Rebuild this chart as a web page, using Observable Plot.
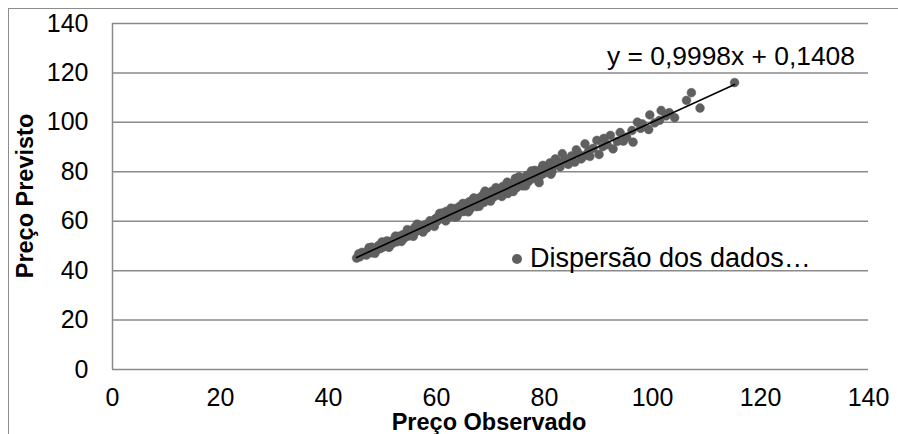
<!DOCTYPE html>
<html><head><meta charset="utf-8">
<script src="https://cdn.jsdelivr.net/npm/d3@7"></script>
<script src="https://cdn.jsdelivr.net/npm/@observablehq/plot@0.6"></script>
<style>
body{margin:0;background:#fff;font-family:"Liberation Sans",Arial,sans-serif;}
#wrap{position:relative;width:898px;height:434px;overflow:hidden;}
#frame{position:absolute;left:8px;top:8px;width:900px;height:440px;border-top:1.5px solid #8c8c8c;border-left:1.5px solid #8c8c8c;box-sizing:border-box;}
#chart{position:absolute;left:0;top:0;}
.ov{position:absolute;white-space:nowrap;color:#000;line-height:1;}
</style></head>
<body>
<div id="wrap"><div id="frame"></div><div id="chart"></div>
<div id="eq" class="ov" style="left:607px;top:43px;font-size:26.4px;"></div>
<div id="leg" class="ov" style="left:512px;top:245px;font-size:27px;"><span style="display:inline-block;width:10px;height:10px;border-radius:50%;background:#5f5f5f;margin-right:8px;vertical-align:3px;"></span><span id="legtxt"></span></div>
<div class="ov" style="left:0;width:978px;text-align:center;top:411px;font-size:23.5px;font-weight:bold;">Preço Observado</div>
<div class="ov" style="left:26px;top:196px;font-size:23.5px;font-weight:bold;transform:translate(-50%,-50%) rotate(-90deg);">Preço Previsto</div>
</div>
<script>
const observed = [45.2,45.8,46.5,47.0,47.3,47.9,48.4,48.8,49.3,49.6,50.1,50.5,51.0,51.4,51.8,52.2,52.6,53.0,53.3,53.7,54.0,54.4,54.8,55.1,55.5,55.9,56.2,56.6,57.0,57.3,57.7,58.0,58.5,59.0,59.4,59.8,60.1,60.4,60.8,61.1,61.5,61.8,62.2,62.5,62.9,63.2,63.6,63.9,64.3,64.6,65.0,65.3,65.7,66.0,66.4,66.7,67.1,67.4,67.8,68.1,68.5,68.8,69.2,69.5,69.9,70.2,70.6,70.9,71.3,71.6,72.0,72.3,72.7,73.0,73.4,73.7,74.1,74.5,74.8,75.2,75.6,75.9,76.3,76.7,77.0,77.4,77.8,78.2,78.6,79.0,79.4,79.8,80.2,80.6,81.0,81.4,81.9,82.4,82.9,83.3,83.8,84.4,85.0,85.6,86.2,86.8,87.5,87.5,88.2,89.0,89.7,90.1,90.8,91.6,92.2,92.7,93.5,94.6,95.2,96.4,97.2,97.8,98.1,99.3,99.5,100.4,101.3,101.6,102.5,103.1,104.1,106.3,107.2,108.8,115.2,46.2,48.0,50.8,52.9,55.3,56.8,58.2,61.3,63.4,64.8,66.2,67.6,69.0,70.5,71.8,73.2,74.6,76.0,77.6,79.1,80.9,82.0,84.0,85.9,88.4,91.0,94.0,96.2,45.6,47.5,48.6,49.9,51.2,52.4,53.5,54.6,55.7,56.4,57.5,58.8,59.6,60.6,61.7,62.7,63.8,64.9,65.9,66.9,67.9,68.9,70.0,71.0,72.1,73.1,74.2,75.3,76.5,77.7,78.9,79.7,81.2];
const predicted = [45.1,45.6,46.9,46.3,48.0,47.2,49.0,48.1,50.2,48.9,49.5,51.0,50.3,51.8,50.9,52.8,51.6,53.9,52.4,54.5,53.1,55.2,54.0,56.0,54.6,57.3,55.8,57.6,56.4,58.1,57.0,58.7,58.9,59.5,58.6,61.0,60.0,62.1,61.2,63.3,62.0,64.0,62.8,61.9,64.6,63.5,65.2,62.8,66.0,64.4,63.9,66.7,65.1,67.8,66.2,68.6,67.0,65.9,69.3,68.0,70.4,67.6,69.1,71.3,70.2,72.1,69.8,71.0,73.0,70.6,72.4,74.1,71.9,73.6,75.2,72.8,74.9,76.0,73.5,75.6,77.4,74.3,76.8,78.5,76.0,79.3,77.2,80.6,78.1,75.6,81.2,79.2,82.0,81.0,83.6,80.2,82.7,84.1,82.0,87.3,85.1,83.0,86.4,83.9,87.7,85.2,91.3,86.6,88.6,89.5,92.7,87.0,90.2,91.0,94.7,89.3,92.3,92.4,94.0,92.0,100.1,97.6,99.4,97.1,103.0,99.8,100.8,104.8,102.6,103.9,101.9,108.9,112.0,105.8,116.1,47.4,49.5,52.0,52.9,55.6,58.4,57.2,60.9,61.7,65.9,64.8,68.8,72.2,70.9,72.6,71.2,77.3,75.9,80.4,78.2,79.6,85.2,84.5,88.9,86.2,93.5,95.9,96.7,46.8,49.3,47.0,51.6,49.4,54.0,51.8,56.6,53.9,58.8,55.6,60.2,57.9,63.2,60.1,65.3,61.9,67.2,63.8,69.4,66.0,71.5,68.1,73.6,70.0,75.8,72.0,78.0,74.3,79.9,76.5,82.6,79.0];
const xTicks = [0,20,40,60,80,100,120,140];
const yTicks = [0,20,40,60,80,100,120,140];
const trendCoef = [0.9998, 0.1408]; // slope, intercept
const seriesName = "Dispersão dos dados…";

const data = observed.map((x,i)=>({x, y: predicted[i]}));
const xr = d3.extent(observed);
const trend = xr.map(x=>({x, y: trendCoef[0]*x + trendCoef[1]}));
const fmt = v => String(v).replace(".", ",");
document.getElementById("eq").textContent = `y = ${fmt(trendCoef[0])}x + ${fmt(trendCoef[1])}`;
document.getElementById("legtxt").textContent = seriesName;

const chart = Plot.plot({
  width: 898, height: 434,
  marginLeft: 112, marginRight: 30, marginTop: 23, marginBottom: 65,
  x: {domain:[0,140]}, y: {domain:[0,140]},
  style: {fontFamily:'"Liberation Sans", Arial, sans-serif', color:"#000", background:"transparent"},
  marks: [
    Plot.ruleY(yTicks, {stroke:"#8a8a8a", strokeWidth:1.5, strokeOpacity:1}),
    Plot.ruleX([0], {stroke:"#8a8a8a", strokeWidth:1.5}),
    Plot.axisY({ticks: yTicks, tickSize:0, tickPadding:24, fontSize:25, label:null, tickFormat:d=>d}),
    Plot.axisX({ticks: xTicks, tickSize:0, tickPadding:19, fontSize:25, label:null, tickFormat:d=>d}),
    Plot.dot(data, {x:"x", y:"y", r:4.4, fill:"#5f5f5f", stroke:"#5f5f5f", strokeWidth:0.5}),
    Plot.line(trend, {x:"x", y:"y", stroke:"#000", strokeWidth:1.6})
  ]
});
document.getElementById("chart").appendChild(chart);
</script>
</body></html>
